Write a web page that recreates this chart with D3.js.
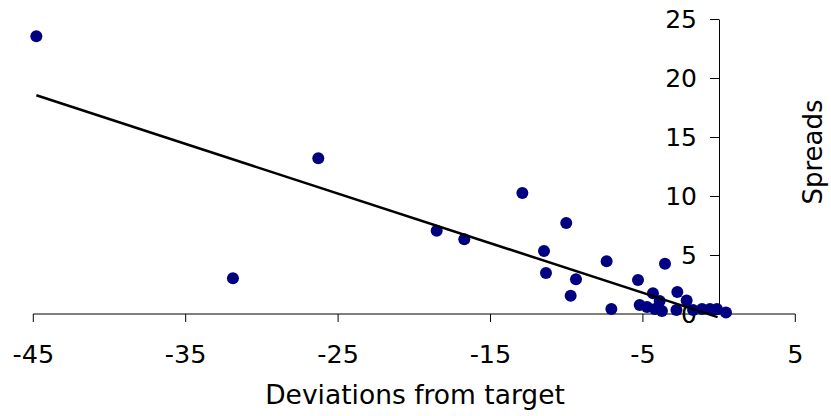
<!DOCTYPE html>
<html>
<head>
<meta charset="utf-8">
<script src="https://cdn.jsdelivr.net/npm/d3@7"></script>
<style>
  html, body { margin: 0; padding: 0; background: #fff; }
  svg { display: block; }
  text { font-family: "DejaVu Sans", Verdana, sans-serif; fill: #000; }
</style>
</head>
<body>
<svg id="chart" width="831" height="416"></svg>
<script>
// Deviations from target (x) and Spreads (y)
const deviations = [-44.8, -26.3, -31.9, -18.53, -16.72, -12.91, -10.03, -11.49, -7.38, -11.36,
  -9.39, -9.74, -7.07, -3.55, -5.32, -2.74, -4.34, -5.21, -4.73, -4.21,
  -3.75, -3.9, -2.8, -2.13, -1.71, -1.12, -0.6, -0.14, 0.45];
const spreads = [23.53, 13.19, 3.03, 7.06, 6.33, 10.25, 7.71, 5.34, 4.47, 3.47,
  2.94, 1.55, 0.42, 4.26, 2.88, 1.86, 1.75, 0.76, 0.59, 0.42,
  0.25, 1.1, 0.34, 1.14, 0.34, 0.42, 0.42, 0.42, 0.13];
const xTicks = [-45, -35, -25, -15, -5, 5];
const yTicks = [0, 5, 10, 15, 20, 25];
const trendX = [-44.8, -0.1];
const trendSlope = [-0.4206];
const trendIntercept = [-0.31];
const xTitle = "Deviations from target";
const yTitle = "Spreads";

const svg = d3.select("#chart");
const x = d3.scaleLinear().domain([-45, 5]).range([33.3, 795.3]);
const y = d3.scaleLinear().domain([0, 25]).range([314, 19]);
const fmt = d => String(d);

// X axis (crosses at y = 0)
const xAxis = svg.append("g")
  .attr("transform", `translate(0,${y(0)})`)
  .call(d3.axisBottom(x).tickValues(xTicks).tickFormat(fmt)
    .tickSize(8).tickSizeOuter(0).offset(0));
xAxis.selectAll("path, line").attr("stroke", "#000");
xAxis.selectAll("text")
  .attr("y", 49).attr("dy", 0)
  .style("font-size", "25.5px").style("font-family", '"DejaVu Sans", Verdana, sans-serif').attr("fill", "#000");

// Y axis (crosses at x = 0)
const yAxis = svg.append("g")
  .attr("transform", `translate(${Math.round(x(0))},0)`)
  .call(d3.axisLeft(y).tickValues(yTicks).tickFormat(fmt)
    .tickSize(9).tickSizeOuter(0));
yAxis.selectAll("path, line").attr("stroke", "#000");
yAxis.selectAll("text")
  .attr("x", -22).attr("dy", "0.35em")
  .style("font-size", "25px").style("font-family", '"DejaVu Sans", Verdana, sans-serif').attr("fill", "#000");

// Points
const pts = deviations.map((d, i) => ({ x: d, y: spreads[i] }));
svg.append("g").selectAll("circle").data(pts).join("circle")
  .attr("cx", d => x(d.x)).attr("cy", d => y(d.y)).attr("r", 6)
  .attr("fill", "#000080");

// Linear trendline
const trend = trendX.map(v => ({ x: v, y: trendIntercept[0] + trendSlope[0] * v }));
svg.append("path")
  .datum(trend)
  .attr("d", d3.line().x(d => x(d.x)).y(d => y(d.y)))
  .attr("fill", "none").attr("stroke", "#000").attr("stroke-width", 2.5);

// Titles
svg.append("text")
  .attr("x", 415).attr("y", 404)
  .attr("text-anchor", "middle")
  .style("font-size", "26.5px")
  .text(xTitle);
svg.append("text")
  .attr("transform", "translate(822,152) rotate(-90)")
  .attr("text-anchor", "middle")
  .style("font-size", "26px")
  .text(yTitle);
</script>
</body>
</html>
